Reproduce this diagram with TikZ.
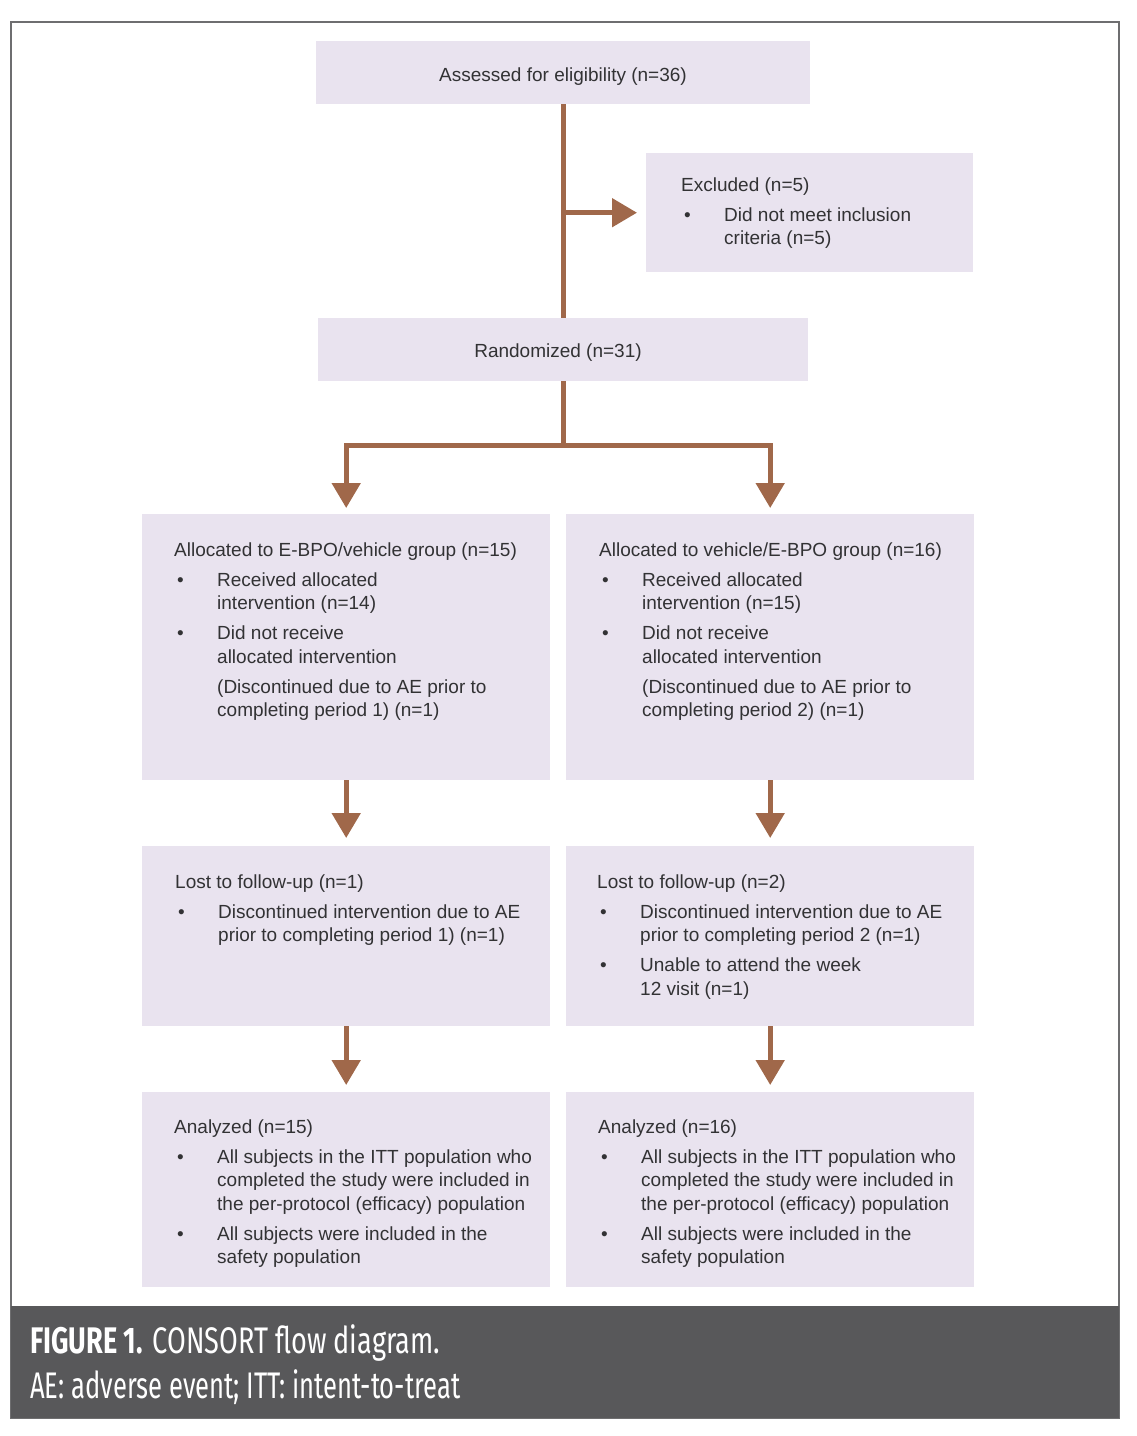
\documentclass[tikz,border=0pt]{standalone}
\usepackage{fontspec}
\usepackage{graphicx}
\setmainfont{Liberation Sans}
\newfontfamily\capfont{Fira Sans}
\usetikzlibrary{arrows.meta}
\definecolor{boxfill}{RGB}{233,227,239}
\definecolor{arrowc}{RGB}{160,104,74}
\definecolor{framec}{RGB}{110,110,112}
\definecolor{capbar}{RGB}{88,88,90}
\definecolor{txt}{RGB}{50,50,52}
\newcommand{\bitem}{\makebox[43pt][l]{\hspace{3pt}\textbullet}}
\newcommand{\bind}{\hspace*{43pt}}
\newcommand{\topstrut}{\rule{0pt}{16pt}}
\tikzset{
  box/.style={draw=none, fill=boxfill, rectangle, inner sep=0pt, anchor=north west},
  txtblock/.style={anchor=north west, yshift=16pt, inner sep=0pt, align=left, text=txt,
     font=\fontsize{19pt}{23.5pt}\selectfont},
  txtc/.style={anchor=base, inner sep=0pt, text=txt, font=\fontsize{19pt}{23.5pt}\selectfont},
  conn/.style={draw=arrowc, line width=5pt},
  arr/.style={conn, -{Triangle[length=25pt,width=28pt]}},
  captxt/.style={anchor=base west, inner sep=0pt, text=white}
}
\begin{document}
\begin{tikzpicture}[x=1pt,y=-1pt]
\useasboundingbox (0,0) rectangle (1136,1436);
% frame
\draw[framec, line width=2pt] (11,22) rectangle (1119,1418);
\fill[capbar] (11,1306) rectangle (1119,1418);

% boxes
\node[box, minimum width=494pt, minimum height=63pt] (assess) at (316,41) {};
\node[box, minimum width=327pt, minimum height=119pt] (excl) at (646,153) {};
\node[box, minimum width=490pt, minimum height=63pt] (rand) at (318,318) {};
\node[box, minimum width=408pt, minimum height=266pt] (allocL) at (142,514) {};
\node[box, minimum width=408pt, minimum height=266pt] (allocR) at (566,514) {};
\node[box, minimum width=408pt, minimum height=180pt] (lostL) at (142,846) {};
\node[box, minimum width=408pt, minimum height=180pt] (lostR) at (566,846) {};
\node[box, minimum width=408pt, minimum height=195pt] (anaL) at (142,1092) {};
\node[box, minimum width=408pt, minimum height=195pt] (anaR) at (566,1092) {};

% texts
\node[txtc] (tassess) at (563,81) {Assessed for eligibility (n=36)};
\node[txtc] (trand) at (558,357) {Randomized (n=31)};
\node[txtblock] (texcl) at (681,191) {\topstrut Excluded (n=5)\\[6.5pt]
  \bitem Did not meet inclusion\\ \bind criteria (n=5)};
\node[txtblock] (tallocL) at (174,556) {\topstrut Allocated to E-BPO/vehicle group (n=15)\\[6.5pt]
  \bitem Received allocated\\ \bind intervention (n=14)\\[6.5pt]
  \bitem Did not receive\\ \bind allocated intervention\\[6.5pt]
  \bind (Discontinued due to AE prior to\\ \bind completing period 1) (n=1)};
\node[txtblock] (tallocR) at (599,556) {\topstrut Allocated to vehicle/E-BPO group (n=16)\\[6.5pt]
  \bitem Received allocated\\ \bind intervention (n=15)\\[6.5pt]
  \bitem Did not receive\\ \bind allocated intervention\\[6.5pt]
  \bind (Discontinued due to AE prior to\\ \bind completing period 2) (n=1)};
\node[txtblock] (tlostL) at (175,888) {\topstrut Lost to follow-up (n=1)\\[6.5pt]
  \bitem Discontinued intervention due to AE\\ \bind prior to completing period 1) (n=1)};
\node[txtblock] (tlostR) at (597,888) {\topstrut Lost to follow-up (n=2)\\[6.5pt]
  \bitem Discontinued intervention due to AE\\ \bind prior to completing period 2 (n=1)\\[6.5pt]
  \bitem Unable to attend the week\\ \bind 12 visit (n=1)};
\node[txtblock] (tanaL) at (174,1133) {\topstrut Analyzed (n=15)\\[6.5pt]
  \bitem All subjects in the ITT population who\\ \bind completed the study were included in\\ \bind the per-protocol (efficacy) population\\[6.5pt]
  \bitem All subjects were included in the\\ \bind safety population};
\node[txtblock] (tanaR) at (598,1133) {\topstrut Analyzed (n=16)\\[6.5pt]
  \bitem All subjects in the ITT population who\\ \bind completed the study were included in\\ \bind the per-protocol (efficacy) population\\[6.5pt]
  \bitem All subjects were included in the\\ \bind safety population};

% connectors
\coordinate (split) at (rand.south |- 0,445);
\draw[conn] (assess.south) -- (rand.north);
\draw[arr, shorten >=9pt] (assess.south |- excl.west) -- (excl.west);
\draw[conn] (rand.south) -- (split);
\draw[arr, shorten >=6pt] (split) -| (allocL.north);
\draw[arr, shorten >=6pt] (split) -| (allocR.north);
\draw[arr, shorten >=8pt] (allocL.south) -- (lostL.north);
\draw[arr, shorten >=8pt] (allocR.south) -- (lostR.north);
\draw[arr, shorten >=7pt] (lostL.south) -- (anaL.north);
\draw[arr, shorten >=7pt] (lostR.south) -- (anaR.north);

% caption
\node[captxt] (cap1) at (30,1353) {\resizebox{410pt}{\height}{\capfont\fontsize{37pt}{40pt}\selectfont\textbf{FIGURE 1.} CONSORT flow diagram.}};
\node[captxt] (cap2) at (30,1398) {\resizebox{430pt}{\height}{\capfont\fontsize{37pt}{40pt}\selectfont AE: adverse event; ITT: intent-to-treat}};
\end{tikzpicture}
\end{document}
